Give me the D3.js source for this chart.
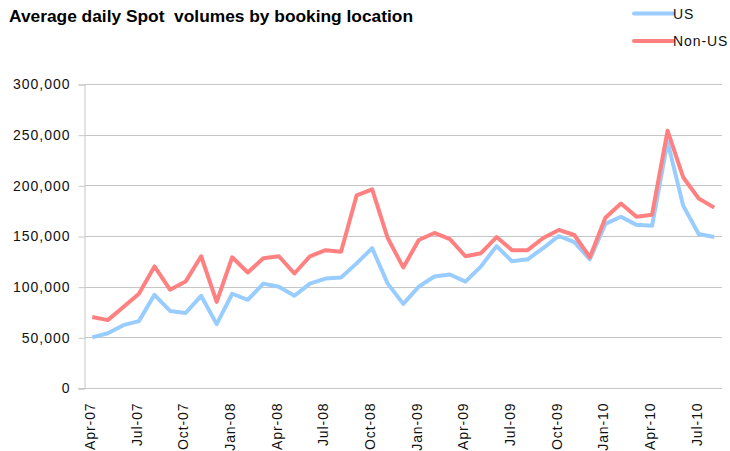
<!DOCTYPE html>
<html>
<head>
<meta charset="utf-8">
<script src="https://cdn.jsdelivr.net/npm/d3@7"></script>
<style>
  html, body { margin: 0; padding: 0; background: #fff; }
  svg { display: block; font-family: "Liberation Sans", Arial, sans-serif; }
</style>
</head>
<body>
<svg id="chart" width="730" height="451"></svg>
<script>
const months = [
  "Apr-07","May-07","Jun-07","Jul-07","Aug-07","Sep-07","Oct-07","Nov-07","Dec-07",
  "Jan-08","Feb-08","Mar-08","Apr-08","May-08","Jun-08","Jul-08","Aug-08","Sep-08",
  "Oct-08","Nov-08","Dec-08","Jan-09","Feb-09","Mar-09","Apr-09","May-09","Jun-09",
  "Jul-09","Aug-09","Sep-09","Oct-09","Nov-09","Dec-09","Jan-10","Feb-10","Mar-10",
  "Apr-10","May-10","Jun-10","Jul-10","Aug-10"
];
const usValues = [
  50000, 54000, 62000, 66000, 92000, 76000, 74000, 91000, 63000,
  93000, 87000, 103000, 100000, 91000, 103000, 108000, 109000, 123000,
  138000, 103000, 83000, 100000, 110000, 112000, 105000, 120000, 140000,
  125000, 127000, 138000, 150000, 144000, 127000, 162000, 169000, 161000,
  160000, 243000, 180000, 152000, 149000
];
const nonUsValues = [
  70000, 67000, 80000, 93000, 120000, 97000, 105000, 130000, 85000,
  129000, 114000, 128000, 130000, 113000, 130000, 136000, 134500, 190000,
  196000, 148000, 119000, 146000, 153000, 147000, 130000, 133000, 149000,
  136000, 136000, 148000, 156000, 151000, 129000, 168000, 182000, 169000,
  171000, 254000, 208000, 187000, 178000
];
const yTicks = [0, 50000, 100000, 150000, 200000, 250000, 300000];
const xTickLabels = ["Apr-07","Jul-07","Oct-07","Jan-08","Apr-08","Jul-08","Oct-08",
                     "Jan-09","Apr-09","Jul-09","Oct-09","Jan-10","Apr-10","Jul-10"];
const seriesNames = ["US", "Non-US"];
const seriesColors = ["#99CCFF", "#FF8080"];

const svg = d3.select("#chart");
const plotLeft = 84.5, plotRight = 722, plotTop = 84, plotBottom = 388;

const x = d3.scaleBand().domain(months).range([plotLeft, plotRight]).paddingInner(0).paddingOuter(0);
const y = d3.scaleLinear().domain([0, 300000]).range([plotBottom, plotTop]);
const fmt = d3.format(",");

// gridlines
svg.append("g").selectAll("line").data(yTicks.filter(d => d > 0)).join("line")
  .attr("x1", plotLeft).attr("x2", plotRight)
  .attr("y1", d => Math.round(y(d)) + 0.5).attr("y2", d => Math.round(y(d)) + 0.5)
  .attr("stroke", "#c6c6c6").attr("stroke-width", 1);

// y axis
const yAxis = svg.append("g").attr("transform", `translate(${plotLeft},0.5)`)
  .call(d3.axisLeft(y).tickValues(yTicks).tickFormat(fmt).tickSize(6).tickPadding(8));
yAxis.select(".domain").attr("stroke", "#c6c6c6");
yAxis.selectAll(".tick line").attr("stroke", "#c6c6c6");
yAxis.selectAll(".tick text")
  .attr("font-size", 14).attr("letter-spacing", 1).attr("fill", "#111")
  .attr("font-family", "'Liberation Sans', Arial, sans-serif");

// x axis
const xAxis = svg.append("g").attr("transform", `translate(0,${plotBottom + 0.5})`)
  .call(d3.axisBottom(x).tickValues(xTickLabels).tickSize(0).tickPadding(0));
xAxis.select(".domain").attr("stroke", "#c6c6c6").attr("d", `M${plotLeft - 6},0H${plotRight}`);
xAxis.selectAll(".tick text")
  .attr("font-size", 14).attr("letter-spacing", 0.9).attr("fill", "#111")
  .attr("font-family", "'Liberation Sans', Arial, sans-serif")
  .attr("text-anchor", "end")
  .attr("transform", "translate(-2,14) rotate(-90)")
  .attr("dy", "0.35em").attr("x", 0).attr("y", 0);

// lines
const line = d3.line().x((d, i) => x(months[i]) + x.bandwidth() / 2).y(d => y(d));
[usValues, nonUsValues].forEach((vals, k) => {
  svg.append("path").datum(vals)
    .attr("d", line)
    .attr("fill", "none")
    .attr("stroke", seriesColors[k])
    .attr("stroke-width", 4)
    .attr("stroke-linejoin", "round");
});

// title
svg.append("text").attr("x", 9).attr("y", 22)
  .attr("font-size", 16).attr("font-weight", "bold").attr("fill", "#000")
  .attr("textLength", 404).attr("lengthAdjust", "spacingAndGlyphs")
  .style("white-space", "pre")
  .text("Average daily Spot\u00a0 volumes by booking location");

// legend
const legend = svg.append("g");
seriesNames.forEach((name, k) => {
  const ly = 13.5 + k * 27.5;
  legend.append("line").attr("x1", 634).attr("x2", 673).attr("y1", ly).attr("y2", ly)
    .attr("stroke", seriesColors[k]).attr("stroke-width", 4).attr("stroke-linecap", "round");
  legend.append("text").attr("x", 673).attr("y", ly).attr("dy", "0.36em")
    .attr("font-size", 14).attr("letter-spacing", 0.9).attr("fill", "#111")
    .text(name);
});
</script>
</body>
</html>
